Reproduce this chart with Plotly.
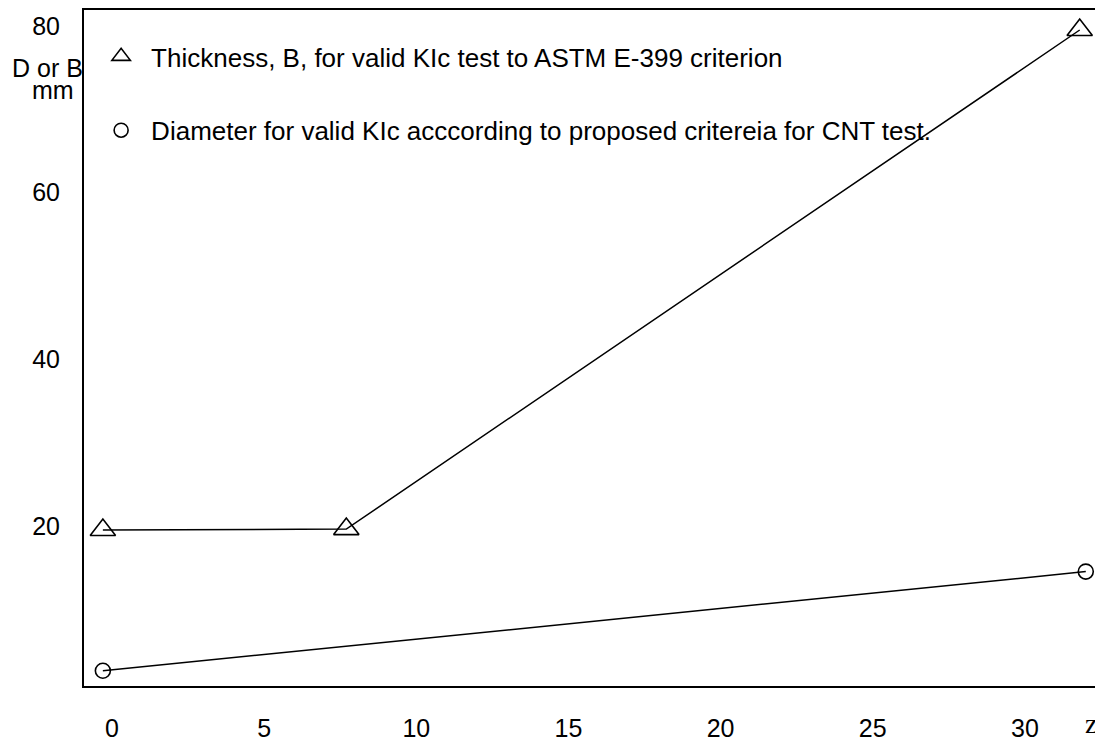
import plotly.graph_objects as go

# Data
thick_x = [-0.3, 7.7, 31.8]
thick_y = [19.5, 19.6, 79.5]
diam_x = [-0.3, 32.0]
diam_y = [2.6, 14.5]

x_ticks = [0, 5, 10, 15, 20, 25, 30]
y_ticks = [20, 40, 60, 80]

legend_thick = "Thickness, B, for valid KIc test to ASTM E-399 criterion"
legend_diam = "Diameter for valid KIc acccording to proposed critereia for CNT test."

FONT = "Liberation Sans, Arial, sans-serif"

fig = go.Figure()

fig.add_trace(go.Scatter(
    x=thick_x, y=thick_y, mode="lines+markers",
    line=dict(color="black", width=1.5),
    marker=dict(symbol="triangle-up-open", size=22, color="black", line=dict(width=1.6)),
    showlegend=False,
))
fig.add_trace(go.Scatter(
    x=diam_x, y=diam_y, mode="lines+markers",
    line=dict(color="black", width=1.5),
    marker=dict(symbol="circle-open", size=15, color="black", line=dict(width=1.6)),
    showlegend=False,
))

# legend-only entries (markers only)
fig.add_trace(go.Scatter(
    x=[None], y=[None], mode="markers", name=legend_thick, legendgroup="a",
    marker=dict(symbol="triangle-up-open", size=16, color="black", line=dict(width=1.6)),
))
fig.add_trace(go.Scatter(
    x=[None], y=[None], mode="markers", name=legend_diam, legendgroup="b",
    marker=dict(symbol="circle-open", size=14, color="black", line=dict(width=1.6)),
))

# page has an 8px body margin: figure coordinates are page coordinates minus 8
fig.update_layout(
    width=1095, height=734,
    margin=dict(l=76, r=2, t=2, b=56),
    paper_bgcolor="white", plot_bgcolor="white",
    font=dict(family=FONT, size=25, color="black"),
    showlegend=True,
    legend=dict(
        x=0.007, y=0.966, xanchor="left", yanchor="top",
        bgcolor="rgba(0,0,0,0)", borderwidth=0,
        font=dict(family=FONT, size=26, color="black"),
        traceorder="grouped", tracegroupgap=37,
        itemsizing="trace", itemwidth=50,
    ),
    xaxis=dict(
        range=[-0.92, 32.5], tickvals=x_ticks, ticks="", showgrid=False,
        zeroline=False, showline=True, linecolor="black", linewidth=2,
        mirror=True, ticklabelstandoff=19, automargin=False,
        tickfont=dict(family=FONT, size=25),
    ),
    yaxis=dict(
        range=[0.77, 81.9], tickvals=y_ticks, ticks="", showgrid=False,
        zeroline=False, showline=True, linecolor="black", linewidth=2,
        ticklabelstandoff=17, automargin=False,
        tickfont=dict(family=FONT, size=25),
    ),
    annotations=[
        dict(text="D or B", xref="paper", yref="paper", x=(47 - 84) / 1017, y=(742 - 68 - 56) / 676,
             xanchor="center", yanchor="middle", showarrow=False,
             font=dict(family=FONT, size=25)),
        dict(text="mm", xref="paper", yref="paper", x=(53 - 84) / 1017, y=(742 - 90 - 56) / 676,
             xanchor="center", yanchor="middle", showarrow=False,
             font=dict(family=FONT, size=25)),
        dict(text="z", xref="paper", yref="paper", x=(1091 - 84) / 1017, y=-(723 - 686) / 676,
             xanchor="center", yanchor="middle", showarrow=False,
             font=dict(family="Liberation Serif, Times New Roman, serif", size=28)),
    ],
)

fig.write_html("out.html")
